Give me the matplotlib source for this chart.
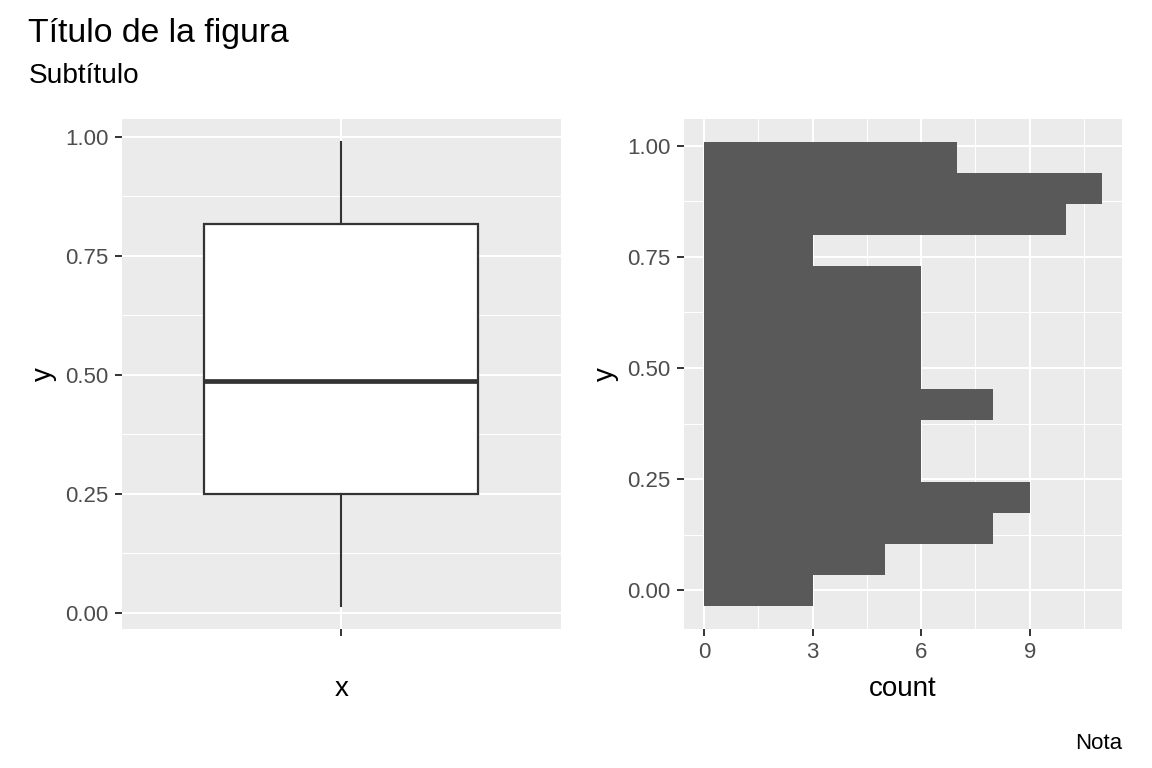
import numpy as np
import matplotlib
matplotlib.use("Agg")
import matplotlib.pyplot as plt
from matplotlib.ticker import FixedLocator, FixedFormatter

plt.rcParams['font.family'] = ['Liberation Sans', 'DejaVu Sans']

# ---- data ----
title = "Título de la figura"
subtitle = "Subtítulo"
caption = "Nota"

# boxplot summary of y
box_q1 = 0.250
box_median = 0.488
box_q3 = 0.817
whisker_low = 0.0153
whisker_high = 0.989

# histogram of y (15 bins, centred on multiples of bin width)
hist_counts = [3, 5, 8, 9, 6, 6, 8, 6, 6, 6, 6, 3, 10, 11, 7]
y_min = 0.0153
y_max = 0.989

y_ticks = [0.0, 0.25, 0.5, 0.75, 1.0]
y_tick_labels = ["0.00", "0.25", "0.50", "0.75", "1.00"]
y_minor = [0.125, 0.375, 0.625, 0.875]
count_ticks = [0, 3, 6, 9]
count_tick_labels = ["0", "3", "6", "9"]
count_minor = [1.5, 4.5, 7.5, 10.5]

# ---- style ----
BG = "#EBEBEB"
TICK_TXT = "#4D4D4D"
TICK_COL = "#333333"
BAR = "#595959"
TICK_SIZE = 16
AXT_SIZE = 20

W, H = 1152, 768
fig = plt.figure(figsize=(W / 100, H / 100), dpi=100)

def px_axes(l, t, r, b):
    return [l / W, 1 - b / H, (r - l) / W, (b - t) / H]

ax1 = fig.add_axes(px_axes(122, 119, 560.7, 628.7))
ax2 = fig.add_axes(px_axes(684, 119, 1122, 628.7))

def style(ax):
    ax.set_facecolor(BG)
    for s in ax.spines.values():
        s.set_visible(False)
    ax.set_axisbelow(True)
    ax.grid(which='major', color='white', linewidth=1.5)
    ax.grid(which='minor', color='white', linewidth=0.75)
    ax.tick_params(which='major', length=5, width=1.4, color=TICK_COL,
                   labelsize=TICK_SIZE, labelcolor=TICK_TXT, pad=4.5)
    ax.tick_params(which='minor', length=0)

# ---- left: boxplot ----
style(ax1)
stats = [dict(med=box_median, q1=box_q1, q3=box_q3,
              whislo=whisker_low, whishi=whisker_high, fliers=[], label="")]
ax1.bxp(stats, positions=[1], widths=0.75, showfliers=False, showcaps=False,
        patch_artist=True,
        boxprops=dict(facecolor='white', edgecolor=TICK_COL, linewidth=1.6),
        medianprops=dict(color=TICK_COL, linewidth=3.4, solid_capstyle='butt'),
        whiskerprops=dict(color=TICK_COL, linewidth=1.5))
rng = whisker_high - whisker_low
ax1.set_xlim(0.4, 1.6)
ax1.set_ylim(whisker_low - 0.05 * rng, whisker_high + 0.05 * rng)
ax1.xaxis.set_major_locator(FixedLocator([1]))
ax1.xaxis.set_major_formatter(FixedFormatter([""]))
ax1.yaxis.set_major_locator(FixedLocator(y_ticks))
ax1.yaxis.set_major_formatter(FixedFormatter(y_tick_labels))
ax1.yaxis.set_minor_locator(FixedLocator(y_minor))
ax1.set_xlabel("x", fontsize=AXT_SIZE, va='baseline')
ax1.xaxis.set_label_coords(0.5, -0.132)
ax1.set_ylabel("y", fontsize=AXT_SIZE, va='center')
ax1.yaxis.set_label_coords(-0.178, 0.5)

# ---- right: histogram ----
style(ax2)
n_bins = len(hist_counts)
bin_width = (y_max - y_min) / (n_bins - 1)
centers = np.arange(n_bins) * bin_width
ax2.barh(centers, hist_counts, height=bin_width, color=BAR, linewidth=0)
lo = centers[0] - bin_width / 2
hi = centers[-1] + bin_width / 2
ax2.set_ylim(lo - 0.05 * (hi - lo), hi + 0.05 * (hi - lo))
cmax = max(hist_counts)
ax2.set_xlim(-0.05 * cmax, cmax * 1.05)
ax2.xaxis.set_major_locator(FixedLocator(count_ticks))
ax2.xaxis.set_major_formatter(FixedFormatter(count_tick_labels))
ax2.xaxis.set_minor_locator(FixedLocator(count_minor))
ax2.yaxis.set_major_locator(FixedLocator(y_ticks))
ax2.yaxis.set_major_formatter(FixedFormatter(y_tick_labels))
ax2.yaxis.set_minor_locator(FixedLocator(y_minor))
ax2.set_xlabel("count", fontsize=AXT_SIZE, va='baseline')
ax2.xaxis.set_label_coords(0.5, -0.132)
ax2.set_ylabel("y", fontsize=AXT_SIZE, va='center')
ax2.yaxis.set_label_coords(-0.178, 0.5)

# ---- titles ----
fig.text(28 / W, 1 - 42 / H, title, fontsize=24.3, ha='left', va='baseline')
fig.text(29 / W, 1 - 83 / H, subtitle, fontsize=20.2, ha='left', va='baseline')
fig.text(1122 / W, 1 - 749 / H, caption, fontsize=16, ha='right', va='baseline')

fig.savefig("out.png", dpi=100)
